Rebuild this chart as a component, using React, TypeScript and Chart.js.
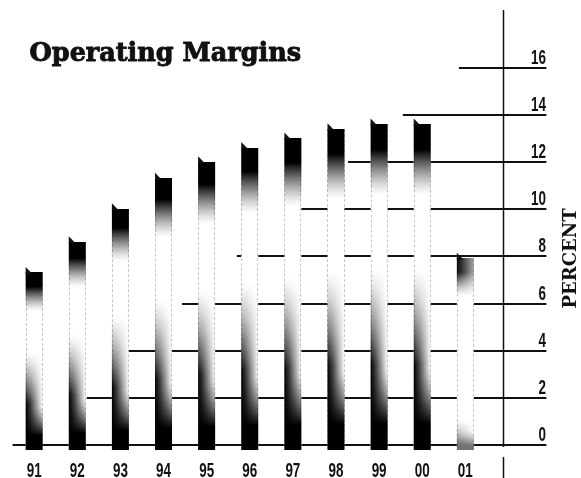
import { useEffect, useRef } from "react";
import { Chart, registerables } from "chart.js";

Chart.register(...registerables);

// Operating margin by fiscal year, percent
const YEARS = ["91", "92", "93", "94", "95", "96", "97", "98", "99", "00", "01"];
const MARGINS = [7.3, 8.6, 10.0, 11.3, 12.0, 12.6, 13.0, 13.4, 13.6, 13.6, 7.9];
const Y_TICKS = [0, 2, 4, 6, 8, 10, 12, 14, 16];

// Left end of each horizontal rule, in category units (the rules step up to the right)
const RULE_STARTS = [-0.5, 1.22, 2.18, 3.43, 4.7, 6.16, 7.28, 8.55, 9.85];
// Years drawn with the lighter shading
const LIGHT_YEARS = ["01"];

const INK = "#111";
const NUM_FONT = "bold 21px 'Liberation Sans', Arial, sans-serif";
const NUM_SQUEEZE = 0.64;
const SERIF = "'DejaVu Serif', serif";

const clamp = (v: number) => Math.max(0, Math.min(1, v));

type Profile = {
  crest: number; // share of the column height taken by the dark cap
  crestL: number;
  crestR: number;
  fullL: number; // foot: fully dark below this share (left edge)
  fadeL: number; // foot: clear above this share (left edge)
  fullR: number;
  fadeR: number;
  footMax: number;
};

const FULL: Profile = { crest: 0.22, crestL: 1, crestR: 1, fullL: 0.26, fadeL: 0.56, fullR: 0.08, fadeR: 0.25, footMax: 1 };
const LIGHT: Profile = { crest: 0.2, crestL: 0.95, crestR: 0.35, fullL: 0.03, fadeL: 0.16, fullR: 0.02, fadeR: 0.1, footMax: 0.55 };

function footShade(t: number, full: number, fade: number) {
  if (t <= full) return 1;
  return Math.pow(clamp((fade - t) / (fade - full)), 1.3);
}

function shadeBar(ctx: CanvasRenderingContext2D, left: number, right: number, top: number, base: number, p: Profile) {
  const w = right - left;
  const h = base - top;
  const y0 = Math.floor(top);
  const y1 = Math.ceil(base);
  for (let y = y0; y < y1; y += 1) {
    const a = Math.max(y, top);
    const b = Math.min(y + 1, base);
    if (b <= a) continue;
    const t = clamp((base - (a + b) / 2) / h); // 0 at the foot, 1 at the crest
    let dl = 0;
    let dr = 0;
    const c = clamp((t - (1 - p.crest)) / p.crest);
    if (c > 0) {
      const k = c > 0.65 ? 1 : Math.pow(c / 0.65, 1.4);
      dl = k * p.crestL;
      dr = k * p.crestR;
    }
    dl = Math.max(dl, footShade(t, p.fullL, p.fadeL) * p.footMax);
    dr = Math.max(dr, footShade(t, p.fullR, p.fadeR) * p.footMax);
    if (dl < 0.005 && dr < 0.005) continue;
    const g = ctx.createLinearGradient(left, 0, right, 0);
    g.addColorStop(0, `rgba(0,0,0,${dl.toFixed(3)})`);
    g.addColorStop(0.3, `rgba(0,0,0,${(dl * 0.75 + dr * 0.25).toFixed(3)})`);
    g.addColorStop(1, `rgba(0,0,0,${dr.toFixed(3)})`);
    ctx.fillStyle = g;
    ctx.fillRect(left, y, w, 1);
  }
  // faint edges of the column
  ctx.save();
  ctx.strokeStyle = "rgba(0,0,0,0.22)";
  ctx.lineWidth = 1;
  ctx.setLineDash([3, 2]);
  ctx.beginPath();
  ctx.moveTo(Math.round(left) + 0.5, top);
  ctx.lineTo(Math.round(left) + 0.5, base);
  ctx.moveTo(Math.round(right) - 0.5, top);
  ctx.lineTo(Math.round(right) - 0.5, base);
  ctx.stroke();
  ctx.restore();
  // dog-ear on the top-left corner
  ctx.fillStyle = INK;
  ctx.beginPath();
  ctx.moveTo(left, top + 1);
  ctx.lineTo(left, top - 6);
  ctx.lineTo(left + w * 0.4, top + 1);
  ctx.closePath();
  ctx.fill();
}

// condensed figures: the tick text is drawn squeezed horizontally
function drawSqueezed(ctx: CanvasRenderingContext2D, text: string, x: number, y: number, align: "center" | "right") {
  ctx.save();
  ctx.translate(x, y);
  ctx.scale(NUM_SQUEEZE, 1);
  ctx.textAlign = align;
  ctx.fillText(text, 0, 0);
  ctx.restore();
}

const rulesPlugin = {
  id: "steppedRules",
  beforeDatasetsDraw(chart: any) {
    const { ctx, chartArea, scales } = chart;
    const x = scales.x;
    const y = scales.y;
    const endX = chartArea.right + 59.5;
    ctx.save();
    ctx.strokeStyle = INK;
    ctx.lineWidth = 1.8;
    Y_TICKS.forEach((v, i) => {
      const py = Math.round(y.getPixelForValue(v));
      ctx.beginPath();
      ctx.moveTo(x.getPixelForValue(RULE_STARTS[i]), py);
      ctx.lineTo(endX, py);
      ctx.stroke();
    });
    ctx.restore();
  },
  afterDatasetsDraw(chart: any) {
    const { ctx } = chart;
    const meta = chart.getDatasetMeta(0);
    ctx.save();
    meta.data.forEach((el: any, i: number) => {
      const left = el.x - el.width / 2;
      const right = el.x + el.width / 2;
      const profile = LIGHT_YEARS.includes(YEARS[i]) ? LIGHT : FULL;
      shadeBar(ctx, left, right, el.y, el.base, profile);
    });
    ctx.restore();
  },
  afterDraw(chart: any) {
    const { ctx, chartArea, scales } = chart;
    const xs = scales.x;
    const ys = scales.y;
    const zeroY = ys.getPixelForValue(0);
    const axisX = Math.round(chartArea.right + 16) + 0.5;
    ctx.save();
    ctx.strokeStyle = INK;
    ctx.lineWidth = 1.5;
    ctx.beginPath();
    ctx.moveTo(axisX, chartArea.top + 1);
    ctx.lineTo(axisX, zeroY + 2);
    ctx.moveTo(axisX, zeroY + 12);
    ctx.lineTo(axisX, chart.height);
    ctx.stroke();

    // tick labels
    ctx.fillStyle = INK;
    ctx.font = NUM_FONT;
    ctx.textBaseline = "alphabetic";
    xs.ticks.forEach((t: any, i: number) => {
      drawSqueezed(ctx, xs.getLabelForValue(t.value), xs.getPixelForTick(i), chartArea.bottom + 22.5, "center");
    });
    ys.ticks.forEach((t: any, i: number) => {
      drawSqueezed(ctx, String(t.value), chartArea.right + 59, Math.round(ys.getPixelForTick(i)) - 4, "right");
    });

    // heading
    ctx.font = `bold 25.5px ${SERIF}`;
    ctx.textAlign = "left";
    ctx.lineWidth = 0.9;
    ctx.strokeStyle = INK;
    ctx.fillText("Operating Margins", chartArea.left + 17, 61);
    ctx.strokeText("Operating Margins", chartArea.left + 17, 61);

    // axis title
    ctx.translate(chart.width - 10, (ys.getPixelForValue(6) + ys.getPixelForValue(10)) / 2 + 2);
    ctx.rotate(-Math.PI / 2);
    ctx.font = `bold 18px ${SERIF}`;
    ctx.textAlign = "center";
    ctx.textBaseline = "middle";
    ctx.fillText("PERCENT", 0, 0);
    ctx.restore();
  },
};

export default function App() {
  const canvasRef = useRef<HTMLCanvasElement | null>(null);

  useEffect(() => {
    const canvas = canvasRef.current;
    if (!canvas) return;
    const chart = new Chart(canvas, {
      type: "bar",
      data: {
        labels: YEARS,
        datasets: [
          {
            data: MARGINS,
            base: -0.2,
            backgroundColor: "#fff",
            borderWidth: 0,
            barPercentage: 0.395,
            categoryPercentage: 1,
          } as any,
        ],
      },
      options: {
        animation: false,
        responsive: true,
        maintainAspectRatio: false,
        devicePixelRatio: 1,
        layout: { padding: { left: 12.6, top: 9, right: 0, bottom: 0 } },
        plugins: { legend: { display: false }, tooltip: { enabled: false }, title: { display: false } },
        scales: {
          x: {
            type: "category",
            offset: true,
            grid: { display: false, drawTicks: false },
            border: { display: false },
            ticks: { display: false, autoSkip: false },
            afterFit(scale: any) {
              scale.height = 23.6;
              scale.paddingLeft = 0;
              scale.paddingRight = 0;
            },
          },
          y: {
            type: "linear",
            position: "right",
            min: -0.4,
            max: 18.5,
            grid: { display: false, drawTicks: false },
            border: { display: false },
            afterBuildTicks(scale: any) {
              scale.ticks = Y_TICKS.map((v) => ({ value: v }));
            },
            ticks: { display: false },
            afterFit(scale: any) {
              scale.width = 94.1;
              scale.paddingTop = 0;
              scale.paddingBottom = 0;
            },
          },
        },
      },
      plugins: [rulesPlugin],
    });
    return () => chart.destroy();
  }, []);

  return (
    <div style={{ position: "fixed", left: 0, top: 0, width: 581, height: 478, background: "#fff" }}>
      <canvas ref={canvasRef} />
    </div>
  );
}
